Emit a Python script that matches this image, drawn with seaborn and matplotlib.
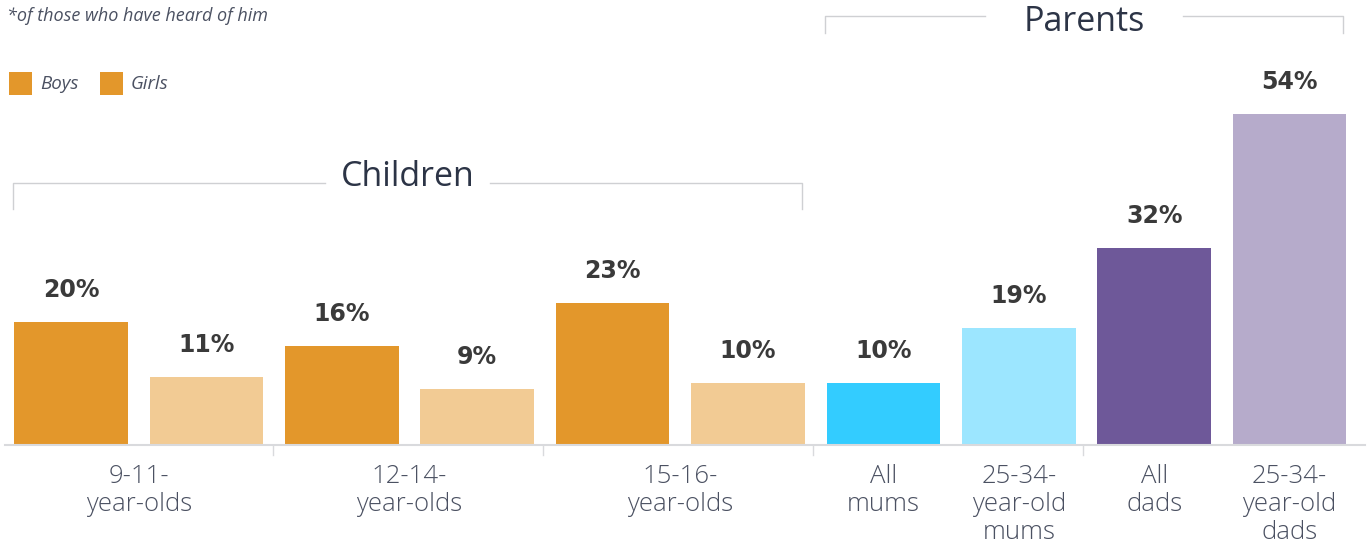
import pandas as pd
import matplotlib.pyplot as plt
import seaborn as sns
from matplotlib.patches import Rectangle

# data
bars = ["Boys 9-11", "Girls 9-11", "Boys 12-14", "Girls 12-14", "Boys 15-16", "Girls 15-16",
        "All mums", "25-34 mums", "All dads", "25-34 dads"]
values = [20, 11, 16, 9, 23, 10, 10, 19, 32, 54]
colors = ["#E3972B", "#F2CB94", "#E3972B", "#F2CB94", "#E3972B", "#F2CB94",
          "#33CCFF", "#9CE6FF", "#6E5899", "#B6ABCB"]
cat_labels = ["9-11-\nyear-olds", "12-14-\nyear-olds", "15-16-\nyear-olds",
              "All\nmums", "25-34-\nyear-old\nmums", "All\ndads", "25-34-\nyear-old\ndads"]
cat_pos = [0.5, 2.5, 4.5, 6, 7, 8, 9]

df = pd.DataFrame({"bar": bars, "value": values})

# pixel -> data helpers (figure is 1370x544, axes fills it)
PX = 135.4
PY = 6.12
def dx(px):
    return (px - 71) / PX
def dy(py):
    return (444 - py) / PY

plt.rcParams['font.family'] = ['Open Sans', 'DejaVu Sans']
fig = plt.figure(figsize=(13.7, 5.44), dpi=100)
ax = fig.add_axes([0, 0, 1, 1])
sns.barplot(data=df, x="bar", y="value", hue="bar", palette=colors, legend=False,
            width=0.84, saturation=1, ax=ax)
ax.set_xlim(dx(0), dx(1370))
ax.set_ylim(dy(544), dy(0))
ax.axis("off")

# value labels
for i, v in enumerate(values):
    ax.text(i, v + 32 / PY, f"{v}%", ha="center", va="center", fontsize=17,
            fontweight="bold", color="#3a3a3a", family="DejaVu Sans")

# baseline + separators
grey = "#d9dadd"
ax.plot([dx(5), dx(1365)], [dy(445), dy(445)], color=grey, lw=1.5)
for sx in [273, 543, 813, 1083]:
    ax.plot([dx(sx), dx(sx)], [dy(445), dy(455)], color=grey, lw=1)

# category labels
for p, lab in zip(cat_pos, cat_labels):
    ax.text(p, dy(464), lab, ha="center", va="top", fontsize=18.5, color="#4b5162",
            linespacing=1.17, fontweight="light")

# brackets
def bracket(x0, x1, gap0, gap1, y, drop, label, ty):
    ax.plot([dx(x0), dx(x0), dx(gap0)], [dy(y + drop), dy(y), dy(y)], color="#cfd0d3", lw=1)
    ax.plot([dx(gap1), dx(x1), dx(x1)], [dy(y), dy(y), dy(y + drop)], color="#cfd0d3", lw=1)
    ax.text(dx((gap0 + gap1) / 2), dy(ty), label, ha="center", va="center",
            fontsize=24.5, color="#2c3446")

bracket(13, 802, 325, 490, 183, 26, "Children", 177)
bracket(825, 1343, 985, 1183, 16, 17, "Parents", 22)

# note
ax.text(dx(7), dy(16), "*of those who have heard of him", ha="left", va="center",
        fontsize=13, style="italic", color="#4b5162")

# legend
for sx, lab in [(9, "Boys"), (100, "Girls")]:
    ax.add_patch(Rectangle((dx(sx), dy(95)), 23 / PX, 23 / PY, color="#E3972B", lw=0))
    ax.text(dx(sx + 31), dy(84), lab, ha="left", va="center", fontsize=13.5,
            style="italic", color="#4b5162")

fig.savefig("out.png", dpi=100)
